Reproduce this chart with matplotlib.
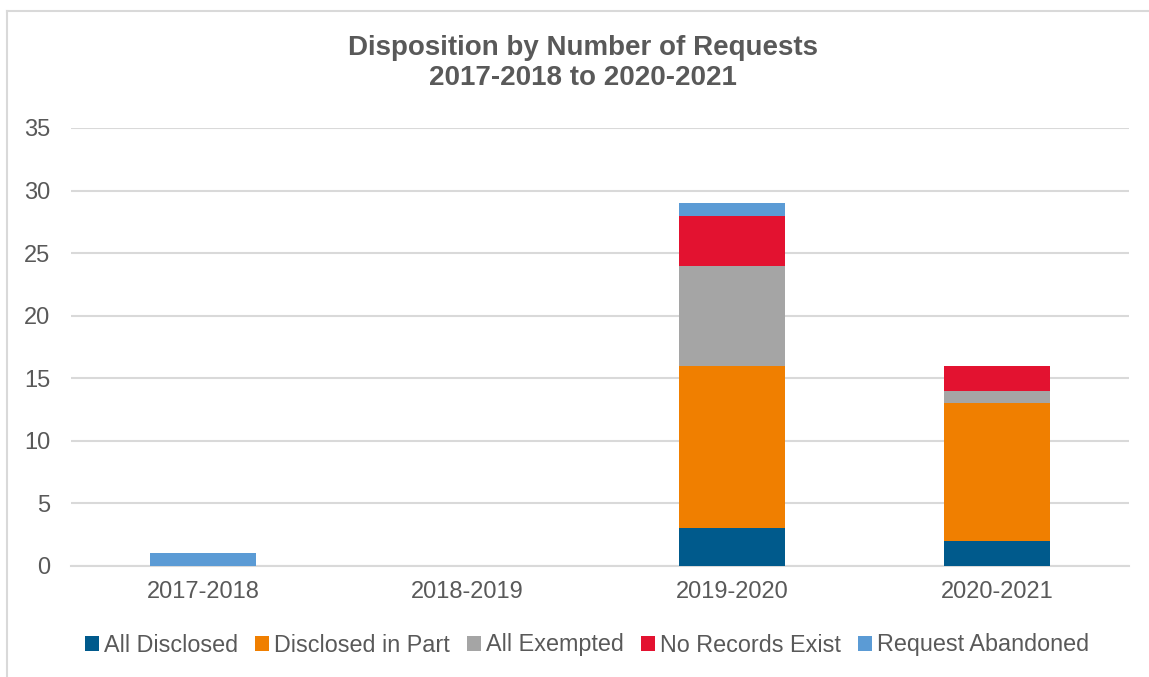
import matplotlib
matplotlib.use("Agg")
import matplotlib.pyplot as plt
from matplotlib.lines import Line2D
import numpy as np

plt.rcParams['font.family'] = ['Liberation Sans', 'DejaVu Sans']

years = ["2017-2018", "2018-2019", "2019-2020", "2020-2021"]
all_disclosed = [0, 0, 3, 2]
disclosed_in_part = [0, 0, 13, 11]
all_exempted = [0, 0, 8, 1]
no_records_exist = [0, 0, 4, 2]
request_abandoned = [1, 0, 1, 0]

series = [
    ("All Disclosed", all_disclosed, "#005A8C"),
    ("Disclosed in Part", disclosed_in_part, "#F07F00"),
    ("All Exempted", all_exempted, "#A5A5A5"),
    ("No Records Exist", no_records_exist, "#E31230"),
    ("Request Abandoned", request_abandoned, "#5B9BD5"),
]

text_color = "#595959"
grid_color = "#D9D9D9"

fig = plt.figure(figsize=(11.49, 6.77), dpi=100)
ax = fig.add_axes([71 / 1149, 1 - 566 / 677, 1058 / 1149, (566 - 128) / 677])

x = np.arange(len(years))
bottom = np.zeros(len(years))
for name, vals, color in series:
    vals = np.array(vals, dtype=float)
    ax.bar(x, vals, width=0.4, bottom=bottom, color=color, label=name, zorder=3)
    bottom += vals

ax.set_xlim(-0.5, len(years) - 0.5)
ax.set_ylim(0, 35)
ax.set_yticks(range(0, 36, 5))
ax.set_xticks(x)
ax.set_xticklabels(years)
ax.yaxis.grid(True, color=grid_color, linewidth=1.5, zorder=0)
ax.set_axisbelow(True)
for s in ["top", "right", "left"]:
    ax.spines[s].set_visible(False)
ax.spines["bottom"].set_color(grid_color)
ax.spines["bottom"].set_linewidth(1.5)
ax.tick_params(axis="both", length=0, labelsize=17, labelcolor=text_color)
ax.tick_params(axis="y", pad=15)
ax.tick_params(axis="x", pad=11)

fig.text(583 / 1149, 1 - 63 / 677, "Disposition by Number of Requests\n2017-2018 to 2020-2021",
         ha="center", va="center", fontsize=20, fontweight="bold", color=text_color,
         linespacing=1.2)

handles, labels = ax.get_legend_handles_labels()
leg = fig.legend(handles, labels, loc="center", bbox_to_anchor=(587 / 1149, 1 - 645 / 677),
                 ncol=5, frameon=False, fontsize=16.8, handlelength=0.6, handleheight=0.6,
                 handletextpad=0.2, columnspacing=0.75, borderaxespad=0)
for t in leg.get_texts():
    t.set_color(text_color)

# chart frame
fig.add_artist(Line2D([7 / 1149, 7 / 1149], [0, 1 - 11 / 677], transform=fig.transFigure,
                      color="#D9D9D9", linewidth=1.5))
fig.add_artist(Line2D([7 / 1149, 1], [1 - 11 / 677, 1 - 11 / 677], transform=fig.transFigure,
                      color="#D9D9D9", linewidth=1.5))

fig.savefig("out.png", dpi=100, facecolor="white")
